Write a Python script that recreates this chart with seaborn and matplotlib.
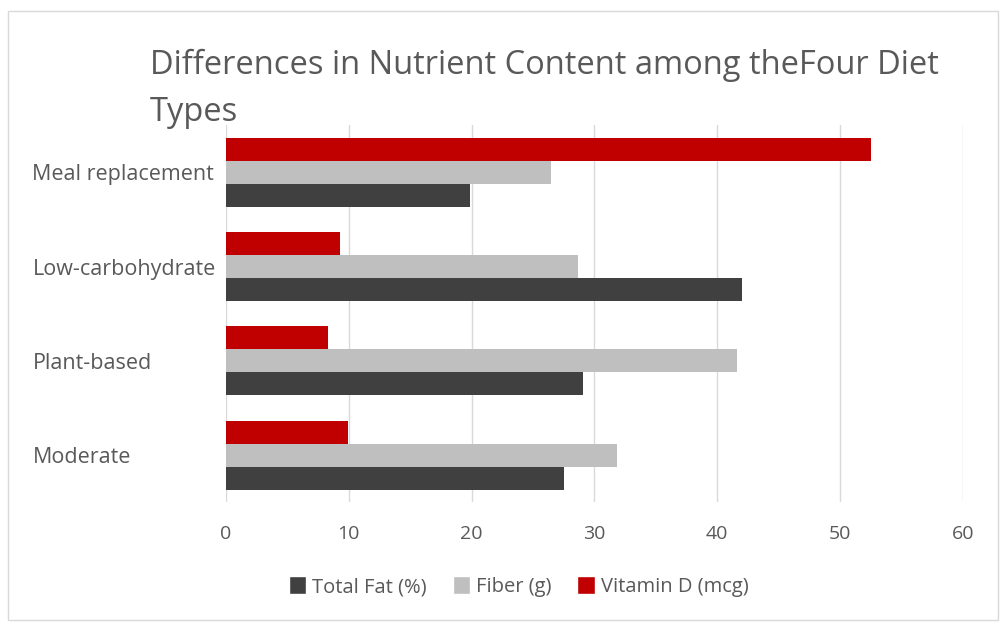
import matplotlib
matplotlib.use("Agg")
import matplotlib.pyplot as plt
from matplotlib.patches import Rectangle, Patch
import pandas as pd
import seaborn as sns

diets = ["Meal replacement", "Low-carbohydrate", "Plant-based", "Moderate"]
total_fat = [19.9, 42.0, 29.1, 27.5]
fiber = [26.5, 28.7, 41.6, 31.8]
vitamin_d = [52.5, 9.3, 8.3, 9.9]
series = ["Total Fat (%)", "Fiber (g)", "Vitamin D (mcg)"]
colors = {"Total Fat (%)": "#404040", "Fiber (g)": "#bfbfbf", "Vitamin D (mcg)": "#c00000"}

df = pd.DataFrame({
    "diet": diets * 3,
    "nutrient": [series[0]] * 4 + [series[1]] * 4 + [series[2]] * 4,
    "value": total_fat + fiber + vitamin_d,
})

sns.set_style("white")
plt.rcParams["font.family"] = ["Open Sans", "DejaVu Sans"]
text_col = "#595959"

fig = plt.figure(figsize=(10.03, 6.28), dpi=100)
ax = fig.add_axes([0.2253, 0.200, 0.7347, 0.601])

# top-to-bottom inside each group: Vitamin D, Fiber, Total Fat
sns.barplot(data=df, y="diet", x="value", hue="nutrient", order=diets,
            hue_order=series[::-1], palette=colors, orient="h",
            width=0.73, saturation=1, linewidth=0, ax=ax, legend=False)

ax.set_xlim(0, 60)
ax.set_xticks(range(0, 61, 10))
ax.set_ylim(3.5, -0.5)
ax.grid(axis="x", color="#d9d9d9", linewidth=1)
ax.set_axisbelow(True)
for s in ax.spines.values():
    s.set_visible(False)
ax.set_xlabel("")
ax.set_ylabel("")
ax.tick_params(axis="x", length=0, pad=16, labelsize=14, labelcolor=text_col)
ax.tick_params(axis="y", length=0, labelsize=15.5, labelcolor=text_col)
for lbl in ax.get_yticklabels():
    lbl.set_horizontalalignment("left")
    lbl.set_x(-0.256)

fig.text(0.1495, 0.858, "Differences in Nutrient Content among theFour Diet\nTypes",
         fontsize=23.5, color=text_col, ha="left", va="center", linespacing=1.55)

handles = [Patch(facecolor=colors[s], label=s) for s in series]
fig.legend(handles=handles, loc="center", bbox_to_anchor=(0.517, 0.066), ncol=3,
           frameon=False, fontsize=14.5, labelcolor=text_col, handlelength=0.85,
           handleheight=1.0, handletextpad=0.3, columnspacing=1.3)

fig.patches.append(Rectangle((0.008, 0.012), 0.987, 0.97, transform=fig.transFigure,
                             fill=False, edgecolor="#d9d9d9", linewidth=1))

fig.savefig("out.png", dpi=100)
